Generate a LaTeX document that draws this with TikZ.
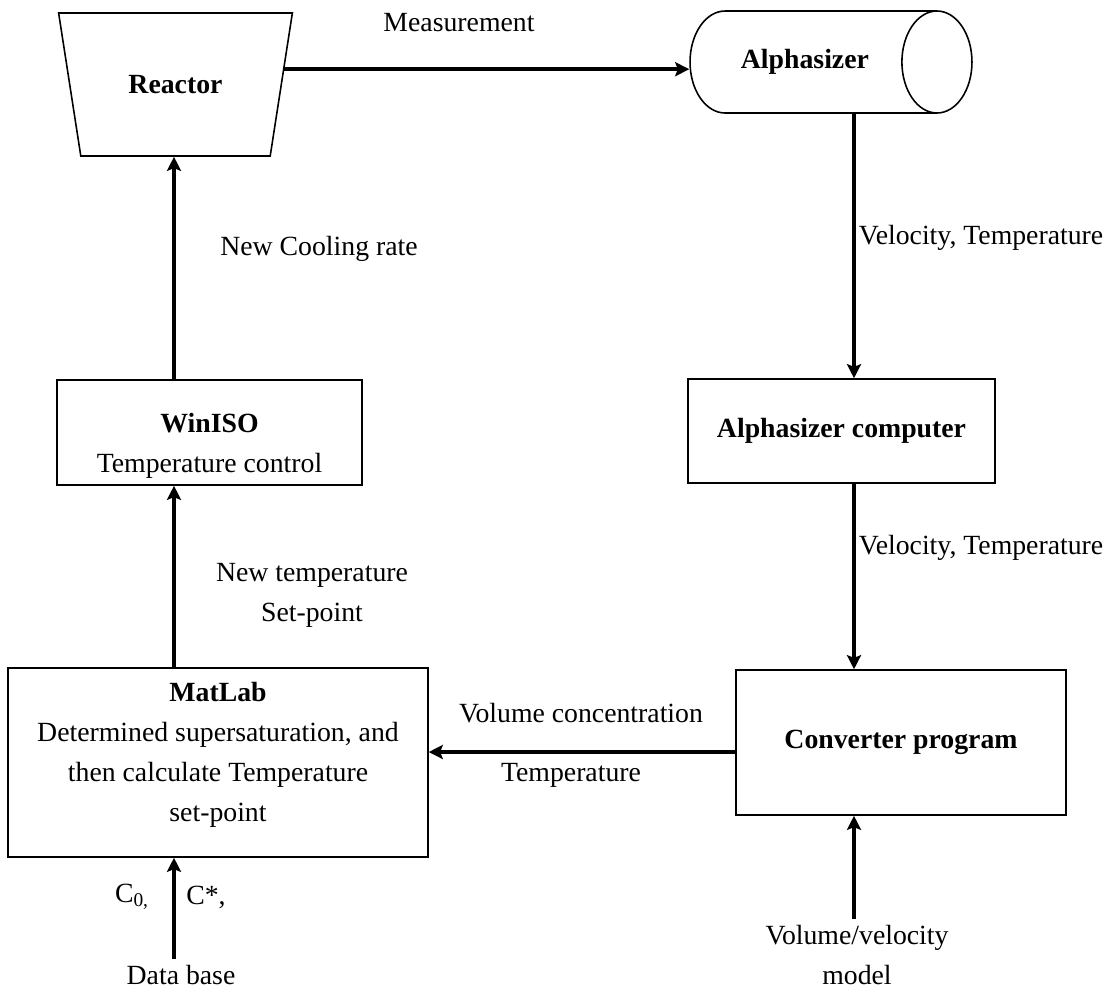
\documentclass[tikz,border=0pt]{standalone}
\usepackage{fontspec}
\setmainfont{Liberation Serif}
\usetikzlibrary{shapes.geometric,arrows.meta}

\newcommand{\flowfont}{\fontsize{15.8}{22.7}\selectfont}

\begin{document}
\begin{tikzpicture}
  [x=0.02cm, y=-0.02cm,
    >={Stealth[length=8pt,width=8pt,inset=1.5pt]},
    font=\flowfont,
    align=center,
    box/.style={
      rectangle, draw, line width=0.9pt
    },
    flow/.style={->, line width=2.2pt},
  ]
  \useasboundingbox (0,0) rectangle (1116,992);

  % Reactor and the Alphasizer probe
  \node[draw, line width=0.9pt, trapezium, trapezium left angle=67.7,
    trapezium right angle=67.7, trapezium stretches=true,
    shape border rotate=180, minimum width=4.7cm, minimum height=2.86cm]
    (reactor) at (175.5,84.5) {\bfseries Reactor};
  \node[draw, line width=0.9pt, cylinder, aspect=1.9,
    minimum height=5.64cm, minimum width=2.04cm, anchor=shape center]
    (alph) at (831,62) {\bfseries Alphasizer};

  % Boxes
  \node[box, minimum width=6.1cm, minimum height=2.1cm] (winiso) at (209.5,432.5) {};
  \node (winisotext) at ([yshift=-2.6mm]winiso.center)
    {\textbf{WinISO}\\Temperature control};
  \node[box, minimum width=6.14cm, minimum height=2.08cm] (acomp) at (841.5,431)
    {\bfseries Alphasizer computer};
  \node[box, minimum width=6.6cm, minimum height=2.9cm] (conv) at (901,742.5)
    {\bfseries Converter program};
  \node[box, minimum width=8.4cm, minimum height=3.78cm] (matlab) at (218,762.5) {};
  \node (matlabtext) at ([yshift=1.6mm]matlab.center)
    {\textbf{MatLab}\\Determined supersaturation, and\\then calculate Temperature\\set-point};

  % Inputs from below
  \node (db) at (181,975) {Data base};
  \node (vvm) at (857,955) {Volume/velocity\\model};

  % Columns the arrows run along
  \coordinate (lline) at (174,0);
  \coordinate (rline) at (854,0);
  \coordinate (hline) at (0,752);

  % Arrows
  \draw[flow] (reactor.8) -- (reactor.8 -| alph.west);
  \draw[flow] (alph.south -| rline) -- (acomp.north -| rline);
  \draw[flow] (acomp.south -| rline) -- (conv.north -| rline);
  \draw[flow] (vvm.north -| rline) -- (conv.south -| rline);
  \draw[flow] (conv.west |- hline) -- (matlab.east |- hline);
  \draw[flow] (db.north -| lline) -- (matlab.south -| lline);
  \draw[flow] (matlab.north -| lline) -- (winiso.south -| lline);
  \draw[flow] (winiso.north -| lline) -- (reactor.south -| lline);

  % Arrow labels
  \node (meas) at (459,23) {Measurement};
  \node (vt1) at (981,238) {Velocity, Temperature};
  \node (vt2) at (981,548) {Velocity, Temperature};
  \node (cool) at (319,249) {New Cooling rate};
  \node (setp) at (312,595) {New temperature\\Set-point};
  \node (vconc) at (581,713) {Volume concentration};
  \node (temp) at (571,775) {Temperature};
  \node (c0) at (132,897) {C\textsubscript{0,}};
  \node (cstar) at (206,897) {C*,};
\end{tikzpicture}
\end{document}
